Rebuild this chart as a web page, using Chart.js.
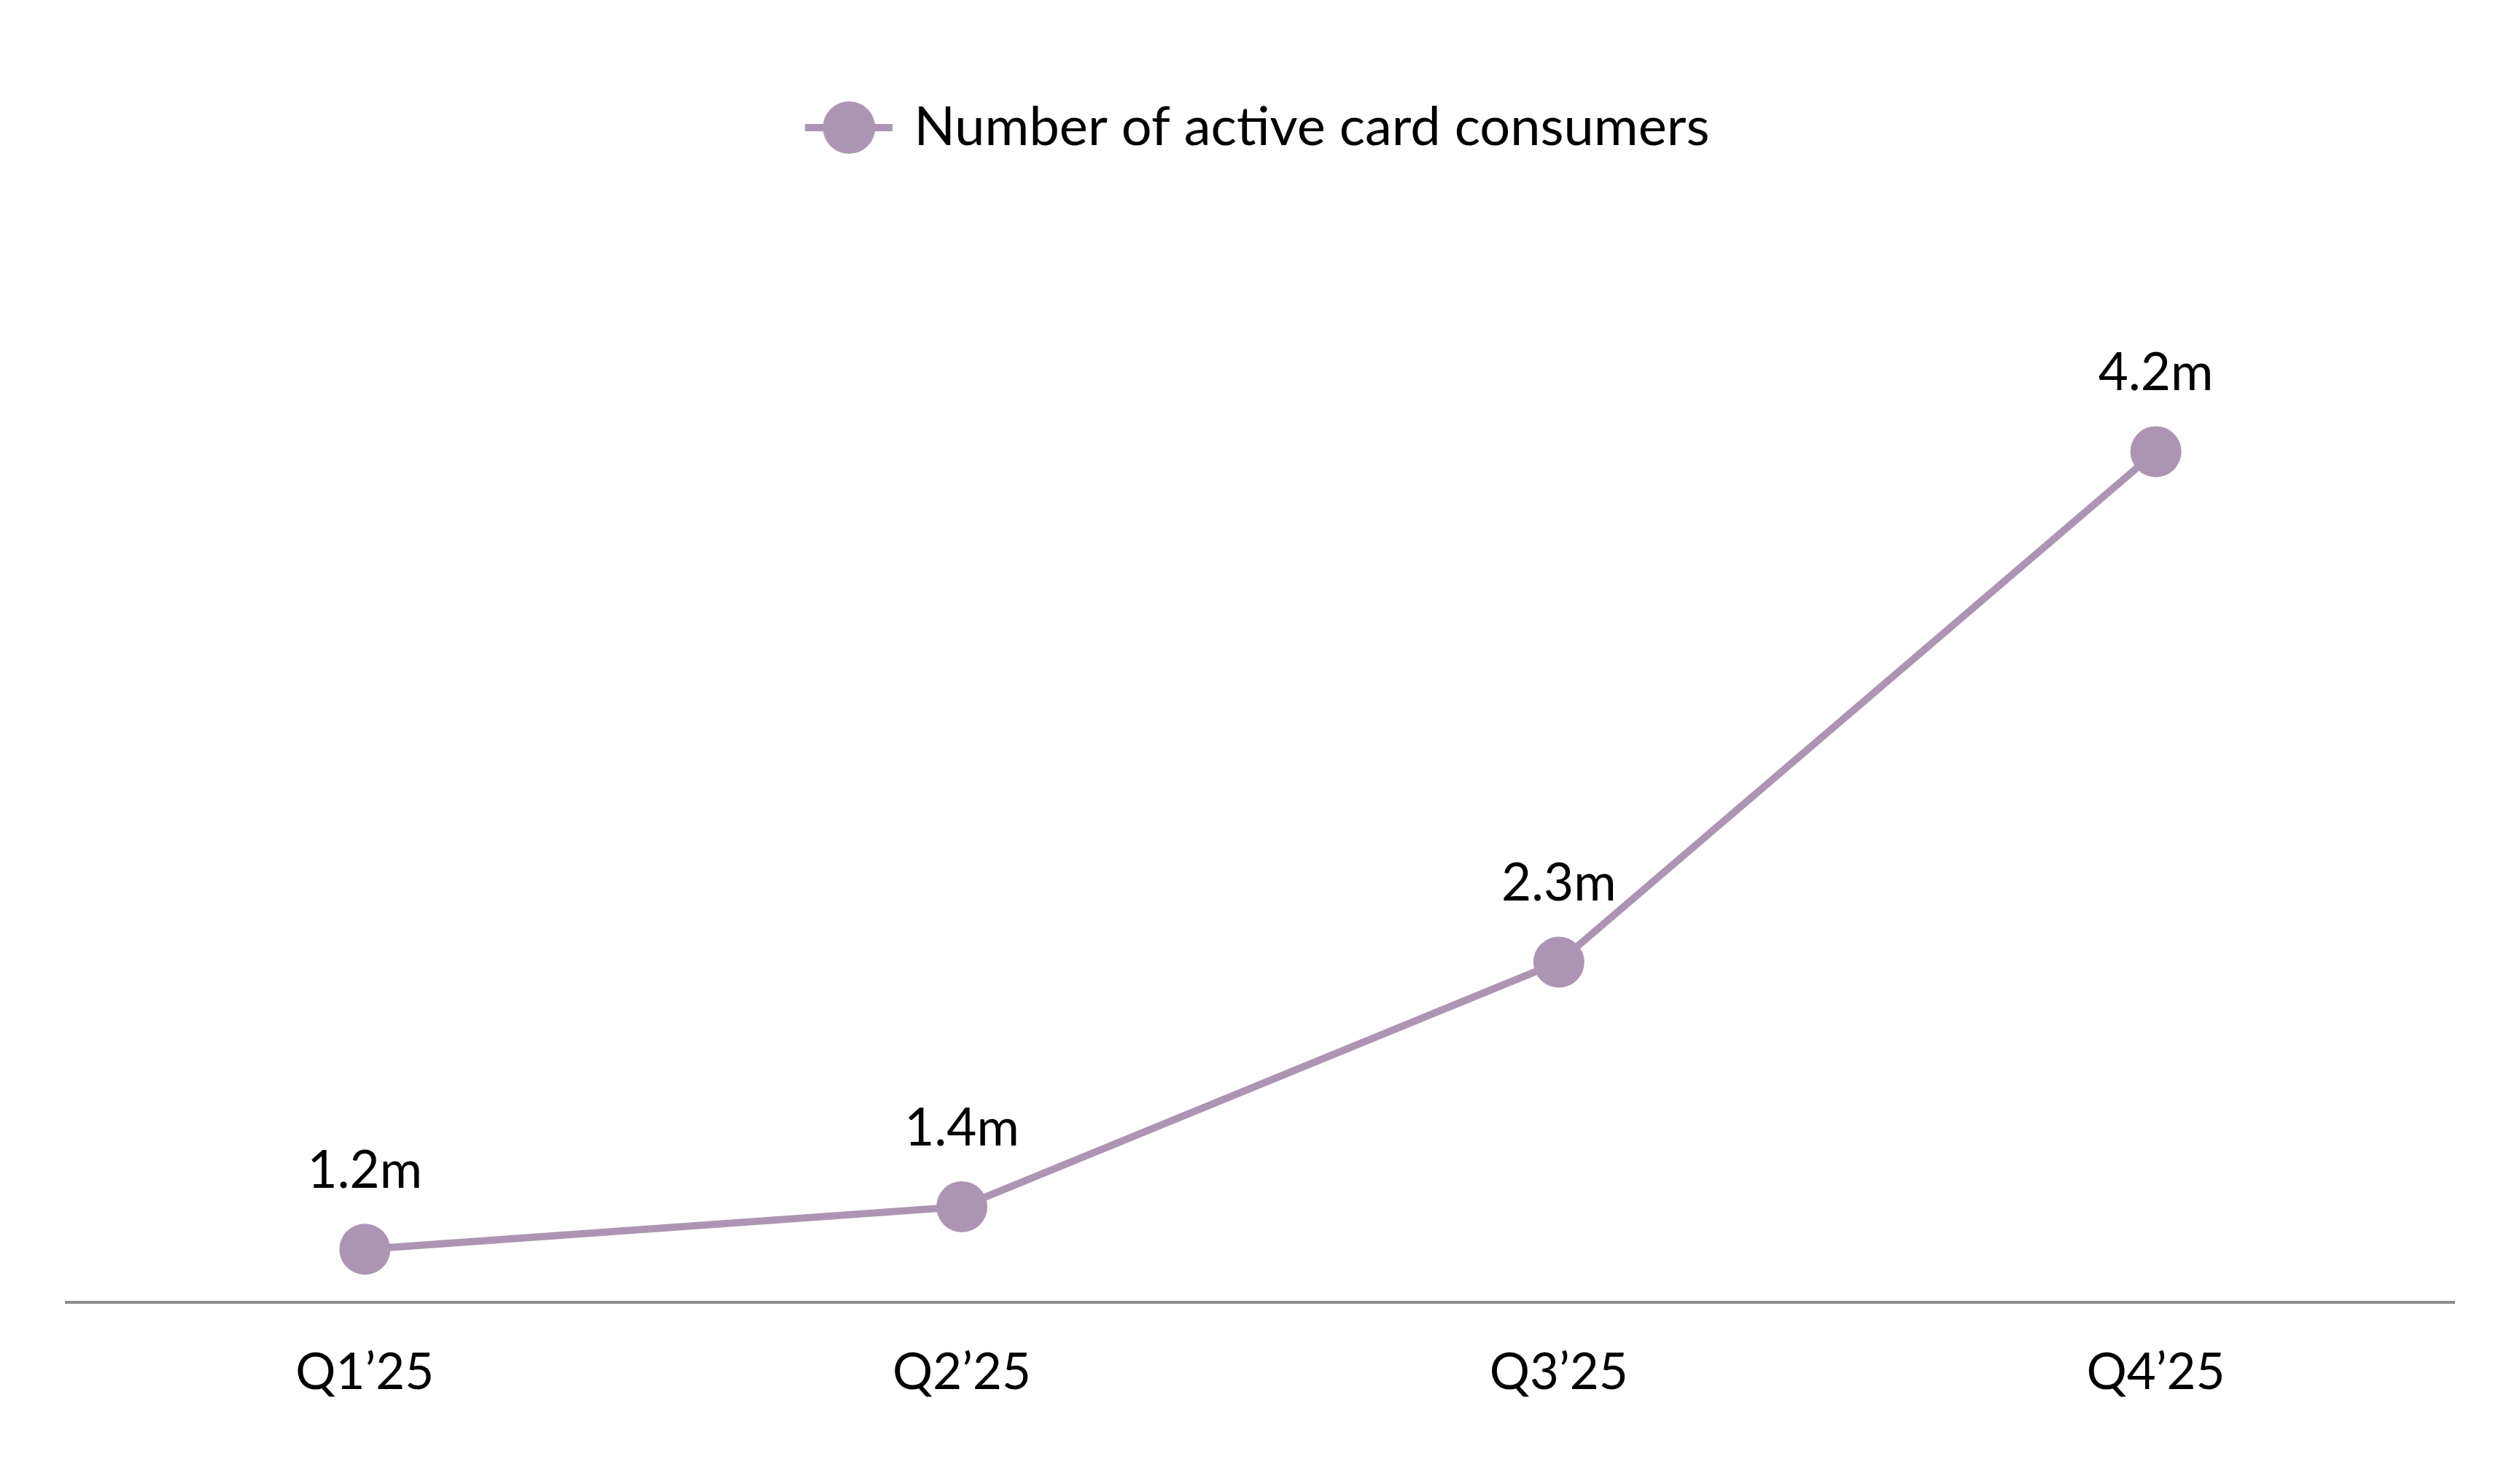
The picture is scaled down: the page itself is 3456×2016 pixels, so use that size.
<!DOCTYPE html>
<html>
<head>
<meta charset="utf-8">
<script src="https://cdn.jsdelivr.net/npm/chart.js@4"></script>
<style>
html,body{margin:0;padding:0;background:#fff;}
#wrap{width:3456px;height:2016px;}
</style>
</head>
<body>
<div id="wrap"><canvas id="c" width="3456" height="2016"></canvas></div>
<script>
const categories = ["Q1\u201925", "Q2\u201925", "Q3\u201925", "Q4\u201925"];
const seriesName = "Number of active card consumers";
const activeConsumers = [1.2, 1.36, 2.28, 4.2];
const valueLabels = ["1.2m", "1.4m", "2.3m", "4.2m"];

const COLOR = "#AE94B4";
const FONT = "Lato";

// legend marker: line with a circle (as in the original)
const marker = document.createElement("canvas");
marker.width = 120; marker.height = 72;
(function(){
  const g = marker.getContext("2d");
  g.fillStyle = COLOR;
  g.fillRect(0, 31, 120, 10);
  g.beginPath(); g.arc(60, 36, 36, 0, Math.PI*2); g.fill();
})();

const valueLabelPlugin = {
  id: "valueLabels",
  afterDatasetsDraw(chart) {
    const ctx = chart.ctx;
    const meta = chart.getDatasetMeta(0);
    ctx.save();
    ctx.font = "71px " + FONT;
    ctx.fillStyle = "#000";
    ctx.textAlign = "center";
    ctx.textBaseline = "alphabetic";
    meta.data.forEach((pt, i) => {
      ctx.fillText(valueLabels[i], pt.x, pt.y - 84);
    });
    ctx.restore();
  }
};

new Chart(document.getElementById("c"), {
  type: "line",
  data: {
    labels: categories,
    datasets: [{
      label: seriesName,
      data: activeConsumers,
      borderColor: COLOR,
      backgroundColor: COLOR,
      borderWidth: 10,
      pointRadius: 35,
      pointHoverRadius: 35,
      pointBackgroundColor: COLOR,
      pointBorderWidth: 0,
      pointStyle: "circle",
      tension: 0,
      clip: false
    }]
  },
  options: {
    responsive: false,
    devicePixelRatio: 1,
    animation: false,
    events: [],
    layout: { padding: { left: 91, right: 90, top: 138, bottom: 37 } },
    plugins: {
      legend: {
        display: true,
        position: "top",
        labels: {
          usePointStyle: true,
          pointStyle: marker,
          pointStyleWidth: 104,
          boxHeight: 68,
          color: "#000",
          font: { family: FONT, size: 74 },
          padding: 0,
          generateLabels(chart) {
            return [{
              text: seriesName,
              pointStyle: marker,
              fillStyle: COLOR,
              strokeStyle: COLOR,
              lineWidth: 0,
              hidden: false,
              datasetIndex: 0
            }];
          }
        }
      },
      tooltip: { enabled: false }
    },
    scales: {
      x: {
        offset: true,
        grid: { display: false, drawTicks: false },
        border: { display: true, color: "#8C8C8C", width: 4 },
        ticks: { color: "#000", font: { family: FONT, size: 69 }, padding: 55 }
      },
      y: {
        display: false,
        min: 1.0,
        max: 5.29
      }
    }
  },
  plugins: [valueLabelPlugin]
});
</script>
</body>
</html>
